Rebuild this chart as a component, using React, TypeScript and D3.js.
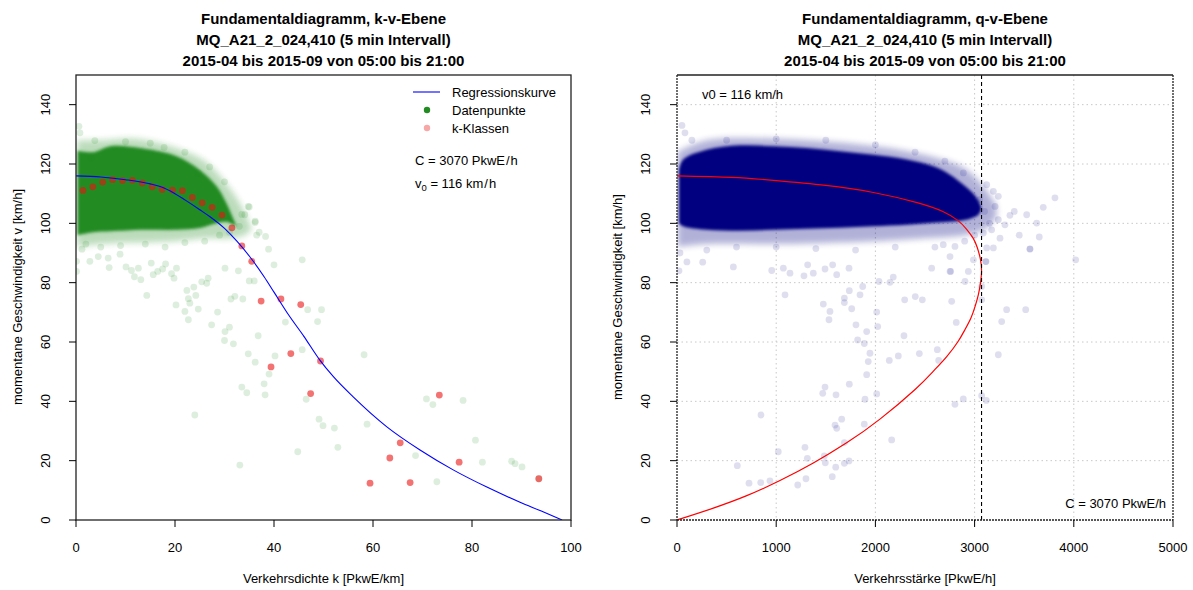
import React from "react";
import * as d3 from "d3";

// ---------- DATA ----------
// Regression curve (k-v plane)
const kvCurveK = [0, 5, 10, 15, 17, 20, 22, 25, 27, 30, 32.5, 35, 36, 38, 40, 43, 46, 49.3, 52, 56, 62.8, 69.5, 76.2, 83, 89.7, 94, 98.2];
const kvCurveV = [116, 115.6, 114.7, 113.3, 112.4, 110, 107.9, 104.6, 102.3, 98.3, 94, 89, 86.8, 82, 76.8, 69, 62, 53.8, 48.3, 41.5, 31.4, 23.6, 16.9, 11.1, 6, 3, 0];

// Regression curve (q-v plane), ordered by decreasing speed
const qvCurveQ = [0, 550, 973, 1500, 1980, 2420, 2680, 2830, 2920, 2985, 3025, 3058, 3070, 3060, 3038, 3005, 2962, 2900, 2830, 2719, 2580, 2400, 2046, 1710, 1374, 1038, 703, 366, 0];
const qvCurveV = [116, 115.5, 114.5, 112.8, 110.4, 107, 104, 101, 98, 95, 92, 88, 84, 80, 76, 72, 68, 64, 60, 55.1, 50, 44, 34, 26, 19.2, 13.3, 8.2, 4, 0];

// k-Klassen (class means)
const classK = [1.4, 3.4, 5.4, 7.4, 9.4, 11.4, 13.4, 15.4, 17.4, 19.5, 21.5, 23.5, 25.5, 27.5, 29.5, 31.5, 33.5, 35.5, 37.4, 39.4, 41.4, 43.4, 45.4, 47.4, 49.4, 59.4, 63.4, 65.5, 67.5, 73.4, 77.4, 93.5];
const classV = [111.1, 112.3, 113.9, 114.7, 114.4, 114.5, 113.6, 112.3, 111.4, 111.2, 111, 108.7, 106.9, 105.4, 102.8, 98.5, 92.4, 87.2, 73.8, 51.6, 74.5, 56.1, 72.6, 42.6, 53.6, 12.4, 20.9, 26, 12.6, 42.1, 19.5, 13.9];

// Dense data cloud envelope, k-v plane
const kvCoreK = [0.3, 3.5, 7, 13.6, 20.3, 25, 28.4, 30.4, 31.8, 32.5];
const kvCoreTop = [124.5, 124, 126, 125.2, 122.6, 118, 112.5, 106.8, 101.5, 99];
const kvCoreBottom = [96, 97, 97.3, 97.8, 97.8, 98.4, 100, 100.5, 99.5, 99];
const kvHaloK = [0.2, 5, 12, 20, 26, 31, 34, 35.5];
const kvHaloTop = [128, 128, 128.5, 125.5, 121, 112, 104, 98];
const kvHaloBottom = [92, 93, 93.5, 94, 95, 95, 96, 98];

// Individual (sparse) data points, k-v plane
const kvPointsK = [1.2, 0.1, 0.1, 2.8, 4.5, 6.5, 6.7, 8.9, 10.1, 11.2, 11.8, 12.6, 13.1, 14.3, 15.2, 15.6, 16.5, 17.5, 18.1, 19.3, 19.8, 20.3, 20.2, 22, 22.4, 22.7, 23, 22.7, 23.8, 24.2, 24.7, 25.4, 26.7, 26.4, 27.4, 28.6, 30.1, 31, 30, 31.8, 31.3, 32.1, 33.7, 34.8, 36.2, 36.8, 33.5, 34.5, 38, 38.2, 24, 30.1, 32.8, 35, 36, 36.2, 38.9, 35, 38.3, 45.7, 46.8, 49.6, 48.8, 42.3, 40.2, 45.7, 39, 46.5, 49.1, 49.9, 52.2, 52.9, 44.8, 33.1, 58.2, 58.8, 68.6, 70.8, 72.1, 78.2, 80.7, 82.1, 72.9, 88, 88.7, 90.1, 93.5, 0.6, 0.8, 3.8, 17.8, 24.7, 34.8, 34.1, 36.2, 2, 5, 9, 14, 18, 22, 26, 29, 31, 33, 37, 40, 3, 10, 15, 22, 27, 30, 33.5, 36.5];
const kvPointsV = [91.3, 87.2, 83.8, 87.2, 88.8, 88.3, 85.1, 89.6, 85.3, 84.1, 82, 84.9, 81, 75.7, 86.6, 82.7, 83.8, 84.6, 86.3, 83, 81.5, 84.9, 72.5, 70.3, 77.4, 74.6, 73.1, 67.5, 78.5, 75.7, 71.1, 80.3, 81.5, 79.8, 65.8, 70.1, 63.5, 65, 60.5, 59.4, 74.5, 75.4, 74.5, 56, 53.2, 62.1, 44.8, 42.9, 45.9, 42.2, 35.4, 84.9, 84, 80.6, 80.6, 100.3, 91.3, 105.5, 95.6, 87.7, 70.9, 70.9, 66.9, 66.7, 55.3, 57.4, 49.2, 40.7, 34, 31.8, 31, 24.5, 23, 18.5, 55.7, 32.3, 21.7, 40.8, 38.9, 40.3, 26.9, 19.5, 12.9, 19.8, 19, 17.9, 13.9, 132.7, 130.5, 127.9, 125.6, 117, 105.7, 102.9, 100.7, 93, 92, 92.5, 93, 92, 93.5, 94, 96, 97, 99, 97, 86, 122, 127.5, 127, 124, 119, 114, 103, 96];

// Dense data cloud envelope, q-v plane
const qvCoreQ = [20, 63, 299, 635, 972, 1308, 1644, 1980, 2316, 2585, 2752, 2887, 2988, 3040, 3065];
const qvCoreTop = [118, 121.5, 124.8, 126.3, 126, 125.4, 124.3, 123.1, 121.5, 119.2, 116.4, 113, 110, 107.5, 105.5];
const qvCoreBottom = [100, 99, 97.8, 97.5, 97.8, 98.2, 98.5, 99, 99.5, 100.2, 100.5, 101, 102, 103, 104.5];
const qvHaloQ = [5, 300, 1000, 2000, 2500, 2900, 3100, 3220];
const qvHaloTop = [124, 128, 128.5, 126, 123, 118.5, 112, 106];
const qvHaloBottom = [92, 93, 93, 94, 95, 96, 98, 102];

// Individual (sparse) data points, q-v plane
const qvPointsQ = [1089, 1475, 1542, 1532, 1687, 1687, 1737, 1761, 1845, 1872, 1804, 1912, 1821, 1888, 1945, 1928, 1912, 2013, 2023, 2036, 2147, 2180, 2295, 2402, 2473, 2288, 2231, 2140, 2443, 2624, 2638, 2769, 2815, 2937, 2903, 2759, 2567, 3071, 3071, 3115, 3323, 3273, 3515, 3239, 3558, 4019, 2013, 1895, 1737, 1492, 1469, 1603, 2886, 2802, 3071, 3118, 847, 1660, 1593, 1610, 1888, 1687, 2164, 1021, 1290, 1314, 1485, 1495, 1600, 1687, 1734, 1565, 1300, 1217, 937, 844, 726, 608, 568, 259, 955, 1072, 1139, 1280, 1374, 1317, 1569, 1610, 1492, 1734, 2887, 3122, 3189, 3239, 3206, 3239, 3306, 3356, 3525, 3692, 3626, 3652, 3558, 3256, 3189, 3122, 3112, 2988, 3088, 3172, 2802, 2684, 2752, 2752, 50, 80, 150, 30, 100, 20, 3050, 3100, 3150, 3000, 2900, 2600, 2200, 1800, 1400, 1000, 600, 300, 2700, 2400, 2000, 1500, 1000, 500, 3810, 3400, 3450];
const qvPointsV = [75.9, 72.8, 70.3, 67.5, 74.8, 73.3, 77.3, 71.2, 75.9, 78.7, 65.8, 63.5, 60.7, 59.5, 56.2, 53.4, 49, 70.1, 65.2, 80.4, 80.1, 81.9, 74.2, 75.3, 74.2, 62.1, 55.3, 53.8, 56.1, 57.4, 53.8, 73.7, 66.6, 83.8, 80.4, 83.8, 84.9, 78.7, 74.2, 87.1, 70.9, 66.9, 70.9, 55.7, 91.3, 87.7, 42.5, 40.7, 45.8, 44.8, 42.7, 42.2, 40.8, 39, 41.9, 40.3, 35.4, 34, 32, 30.9, 32.3, 26.1, 27, 23, 24.5, 20.8, 21.6, 19.3, 17.8, 19.1, 19.9, 14.6, 13.9, 11.8, 13.2, 12.6, 12.4, 18.3, 85.3, 86.9, 84.1, 84.9, 83.2, 82.3, 83.2, 86, 86, 82.7, 84.6, 84.9, 117, 113, 110.8, 109.1, 105.7, 101.2, 99.5, 102.7, 102.9, 105.4, 100.1, 95.4, 91.4, 95, 91.7, 91.7, 87.1, 87.7, 96.7, 97.8, 92.2, 92.8, 88.8, 83.8, 133, 130.5, 128, 90, 87, 84, 108, 104, 100, 96, 94, 92, 92, 91, 91.5, 92, 92, 91, 121, 124, 126.5, 128, 128.5, 128, 108.6, 104, 96];

// Axis ticks and texts
const kTicks = [0, 20, 40, 60, 80, 100];
const qTicks = [0, 1000, 2000, 3000, 4000, 5000];
const vTicks = [0, 20, 40, 60, 80, 100, 120, 140];
const titleLeft = ["Fundamentaldiagramm, k-v-Ebene", "MQ_A21_2_024,410 (5 min Intervall)", "2015-04 bis 2015-09 von 05:00 bis 21:00"];
const titleRight = ["Fundamentaldiagramm, q-v-Ebene", "MQ_A21_2_024,410 (5 min Intervall)", "2015-04 bis 2015-09 von 05:00 bis 21:00"];
const legendLabels = ["Regressionskurve", "Datenpunkte", "k-Klassen"];
const capacity = 3070;
const v0 = 116;

// ---------- LAYOUT ----------
const FONT = "'Liberation Sans', Arial, Helvetica, sans-serif";
const xL = d3.scaleLinear().domain([0, 100]).range([76, 571]);
const xR = d3.scaleLinear().domain([0, 5000]).range([677, 1173]);
const yS = d3.scaleLinear().domain([0, 150]).range([520, 75]);
const TOP = 75, BOT = 520;

const GREEN = "#228B22";
const NAVY = "#000080";

function zip(a: number[], b: number[]) {
  return a.map((x, i) => [x, b[i]] as [number, number]);
}
function env(xs: number[], top: number[], bot: number[]) {
  return xs.map((x, i) => ({ x, t: top[i], b: bot[i] }));
}

export default function App() {
  const kvLine = d3.line<[number, number]>().x(d => xL(d[0])).y(d => yS(d[1])).curve(d3.curveMonotoneX)(zip(kvCurveK, kvCurveV)) || "";
  // q as a smooth function of v: drawn in swapped coordinates, then swapped back by a matrix transform
  const qvLineSwapped = d3.line<[number, number]>().x(d => yS(d[1])).y(d => xR(d[0])).curve(d3.curveNatural)(zip(qvCurveQ, qvCurveV)) || "";

  const areaL = d3.area<{ x: number; t: number; b: number }>().x(d => xL(d.x)).y0(d => yS(d.b)).y1(d => yS(d.t)).curve(d3.curveCatmullRom);
  const areaR = d3.area<{ x: number; t: number; b: number }>().x(d => xR(d.x)).y0(d => yS(d.b)).y1(d => yS(d.t)).curve(d3.curveCatmullRom);

  const tickFont = 13;

  const yAxis = (xPos: number, labelX: number) => (
    <g>
      {vTicks.map(v => (
        <g key={v}>
          <line x1={xPos - 7} x2={xPos} y1={yS(v)} y2={yS(v)} stroke="#000" />
          <text x={labelX} y={yS(v)} transform={`rotate(-90 ${labelX} ${yS(v)})`} textAnchor="middle" fontSize={tickFont} fontFamily={FONT}>{v}</text>
        </g>
      ))}
    </g>
  );

  return (
    <svg width={1193} height={590} style={{ position: "absolute", left: 0, top: 0, background: "#fff" }}>
      <defs>
        <clipPath id="clipL"><rect x={76} y={TOP} width={495} height={BOT - TOP} /></clipPath>
        <clipPath id="clipR"><rect x={677} y={TOP} width={496} height={BOT - TOP} /></clipPath>
        <filter id="soft" x="-10%" y="-10%" width="120%" height="120%"><feGaussianBlur stdDeviation="1.6" /></filter>
        <filter id="soft2" x="-10%" y="-10%" width="120%" height="120%"><feGaussianBlur stdDeviation="3" /></filter>
      </defs>

      {/* ---------- LEFT PANEL ---------- */}
      {titleLeft.map((t, i) => (
        <text key={i} x={323.5} y={24 + i * 21} textAnchor="middle" fontWeight="bold" fontSize={15} fontFamily={FONT}>{t}</text>
      ))}
      <g clipPath="url(#clipL)">
        <path d={areaL(env(kvHaloK, kvHaloTop, kvHaloBottom)) || ""} fill={GREEN} opacity={0.3} filter="url(#soft2)" />
        <path d={areaL(env(kvCoreK, kvCoreTop, kvCoreBottom)) || ""} fill={GREEN} filter="url(#soft)" />
        {kvPointsK.map((k, i) => (
          <circle key={i} cx={xL(k)} cy={yS(kvPointsV[i])} r={3.4} fill={GREEN} fillOpacity={0.15} />
        ))}
        {classK.map((k, i) => (
          <circle key={"c" + i} cx={xL(k)} cy={yS(classV[i])} r={3.4} fill="rgb(235,20,20)" fillOpacity={0.6} />
        ))}
        <path d={kvLine} fill="none" stroke="#0000FF" strokeWidth={1.1} />
      </g>
      <rect x={76} y={TOP} width={495} height={BOT - TOP} fill="none" stroke="#222" strokeWidth={1.3} />
      {kTicks.map(k => (
        <g key={k}>
          <line x1={xL(k)} x2={xL(k)} y1={BOT} y2={BOT + 7} stroke="#000" />
          <text x={xL(k)} y={552} textAnchor="middle" fontSize={tickFont} fontFamily={FONT}>{k}</text>
        </g>
      ))}
      {yAxis(76, 50)}
      <text x={323.5} y={583} textAnchor="middle" fontSize={13} fontFamily={FONT}>Verkehrsdichte k [PkwE/km]</text>
      <text x={22} y={297} transform="rotate(-90 22 297)" textAnchor="middle" fontSize={13} fontFamily={FONT}>momentane Geschwindigkeit v [km/h]</text>

      {/* legend */}
      <line x1={413} x2={440} y1={92} y2={92} stroke="#0000FF" strokeWidth={1.1} />
      <circle cx={427} cy={110} r={3.2} fill={GREEN} />
      <circle cx={427} cy={128} r={3.2} fill="rgb(240,60,60)" fillOpacity={0.45} />
      {legendLabels.map((l, i) => (
        <text key={l} x={452} y={97 + i * 18} fontSize={13} fontFamily={FONT}>{l}</text>
      ))}
      <text x={415} y={165} fontSize={13} fontFamily={FONT}>{`C = ${capacity} PkwE`}<tspan dx={1}>/</tspan><tspan dx={1}>h</tspan></text>
      <text x={415} y={188} fontSize={13} fontFamily={FONT}>v<tspan fontSize={9.5} dy={3}>0</tspan><tspan dy={-3}>{` = ${v0} km`}</tspan><tspan dx={1}>/</tspan><tspan dx={1}>h</tspan></text>

      {/* ---------- RIGHT PANEL ---------- */}
      {titleRight.map((t, i) => (
        <text key={i} x={925} y={24 + i * 21} textAnchor="middle" fontWeight="bold" fontSize={15} fontFamily={FONT}>{t}</text>
      ))}
      <g>
        {qTicks.slice(1, -1).map(q => (
          <line key={q} x1={xR(q)} x2={xR(q)} y1={TOP} y2={BOT} stroke="#c8c8c8" strokeDasharray="1.5,3" />
        ))}
        {vTicks.slice(1).map(v => (
          <line key={v} x1={677} x2={1173} y1={yS(v)} y2={yS(v)} stroke="#c8c8c8" strokeDasharray="1.5,3" />
        ))}
      </g>
      <g clipPath="url(#clipR)">
        <path d={areaR(env(qvHaloQ, qvHaloTop, qvHaloBottom)) || ""} fill={NAVY} opacity={0.3} filter="url(#soft2)" />
        <path d={areaR(env(qvCoreQ, qvCoreTop, qvCoreBottom)) || ""} fill={NAVY} filter="url(#soft)" />
        {qvPointsQ.map((q, i) => (
          <circle key={i} cx={xR(q)} cy={yS(qvPointsV[i])} r={3.4} fill={NAVY} fillOpacity={0.13} />
        ))}
        <path d={qvLineSwapped} transform="matrix(0,1,1,0,0,0)" fill="none" stroke="#FF0000" strokeWidth={1.2} />
      </g>
      <line x1={xR(capacity)} x2={xR(capacity)} y1={TOP} y2={BOT} stroke="#000" strokeDasharray="4,3" strokeWidth={1.1} />
      <line x1={677} x2={1173} y1={TOP} y2={TOP} stroke="#222" strokeWidth={1.3} />
      <line x1={677} x2={677} y1={TOP} y2={BOT} stroke="#222" strokeWidth={1.3} strokeDasharray="2,1" />
      <line x1={1173} x2={1173} y1={TOP} y2={BOT} stroke="#222" strokeWidth={1.3} strokeDasharray="2,1" />
      <line x1={677} x2={1173} y1={BOT} y2={BOT} stroke="#222" strokeWidth={1.3} strokeDasharray="2,1" />
      {qTicks.map(q => (
        <g key={q}>
          <line x1={xR(q)} x2={xR(q)} y1={BOT} y2={BOT + 7} stroke="#000" />
          <text x={xR(q)} y={552} textAnchor="middle" fontSize={tickFont} fontFamily={FONT}>{q}</text>
        </g>
      ))}
      {yAxis(677, 650)}
      <text x={925} y={583} textAnchor="middle" fontSize={13} fontFamily={FONT}>Verkehrsstärke [PkwE/h]</text>
      <text x={622} y={297} transform="rotate(-90 622 297)" textAnchor="middle" fontSize={13} fontFamily={FONT}>momentane Geschwindigkeit [km/h]</text>
      <text x={702} y={99} fontSize={13} fontFamily={FONT}>{`v0 = ${v0} km/h`}</text>
      <text x={1166} y={508} textAnchor="end" fontSize={13} fontFamily={FONT}>{`C = ${capacity} PkwE/h`}</text>
    </svg>
  );
}
